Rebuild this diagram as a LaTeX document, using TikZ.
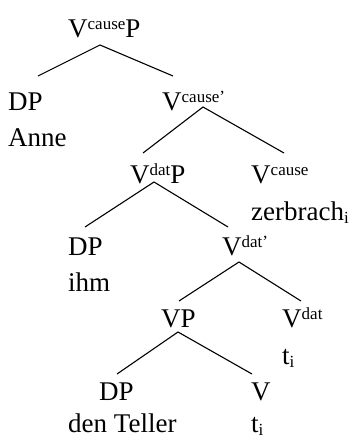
\documentclass[tikz,border=0pt]{standalone}
\usepackage{fontspec}
\setmainfont{Liberation Serif}
\usetikzlibrary{positioning}

\newcommand{\hi}[1]{\raisebox{8pt}{\fontsize{17}{17}\selectfont #1}}
\newcommand{\lo}[1]{\raisebox{-3pt}{\fontsize{17}{17}\selectfont #1}}

\tikzset{
  lab/.style={anchor=base west, inner sep=0pt, font=\fontsize{27}{32}\selectfont},
  branch/.style={line width=1.1pt}
}

\begin{document}
\begin{tikzpicture}[x=1pt, y=-1pt]
\useasboundingbox (0,0) rectangle (352,439);

% ======================================
% TOP: V-CAUSE PHRASE
% ======================================
\node[lab] (vcp) at (68,37) {V\hi{cause}P};
\node[lab] (dpa) at (8,110) {DP};
\node[lab] (anne) at (8,146) {Anne};
\node[lab] (vcbar) at (162,110) {V\hi{cause’}};

\coordinate (vcp-top) at (100,45);
\coordinate (dpa-end) at (38,76);
\coordinate (vcbar-end) at (173,76);
\draw[branch] (dpa-end) -- (vcp-top) -- (vcbar-end);

\node[lab] (vdp) at (130,183) {V\hi{dat}P};
\node[lab] (vc) at (251,183) {V\hi{cause}};
\node[lab] (zer) at (251,220) {zerbrach\lo{i}};

\coordinate (vcbar-top) at (203,107);
\coordinate (vdp-end) at (143,153);
\coordinate (vc-end) at (284,153);
\draw[branch] (vdp-end) -- (vcbar-top) -- (vc-end);

% ======================================
% MIDDLE: V-DAT PHRASE
% ======================================
\node[lab] (dpb) at (68,255) {DP};
\node[lab] (ihm) at (68,291) {ihm};
\node[lab] (vdbar) at (222,255) {V\hi{dat’}};

\coordinate (vdp-top) at (154,182);
\coordinate (dpb-end) at (85,227);
\coordinate (vdbar-end) at (228,227);
\draw[branch] (dpb-end) -- (vdp-top) -- (vdbar-end);

\node[lab] (vp) at (161,327) {VP};
\node[lab] (vd) at (282,327) {V\hi{dat}};
\node[lab] (ta) at (282,364) {t\lo{i}};

\coordinate (vdbar-top) at (239,262);
\coordinate (vp-end) at (179,301);
\coordinate (vd-end) at (301,301);
\draw[branch] (vp-end) -- (vdbar-top) -- (vd-end);

% ======================================
% BOTTOM: VP
% ======================================
\node[lab] (dpc) at (99,400) {DP};
\node[lab] (teller) at (68,432) {den Teller};
\node[lab] (v) at (251,400) {V};
\node[lab] (tb) at (251,432) {t\lo{i}};

\coordinate (vp-top) at (178,332);
\coordinate (dpc-end) at (117,374);
\coordinate (v-end) at (252,374);
\draw[branch] (dpc-end) -- (vp-top) -- (v-end);

\end{tikzpicture}
\end{document}
